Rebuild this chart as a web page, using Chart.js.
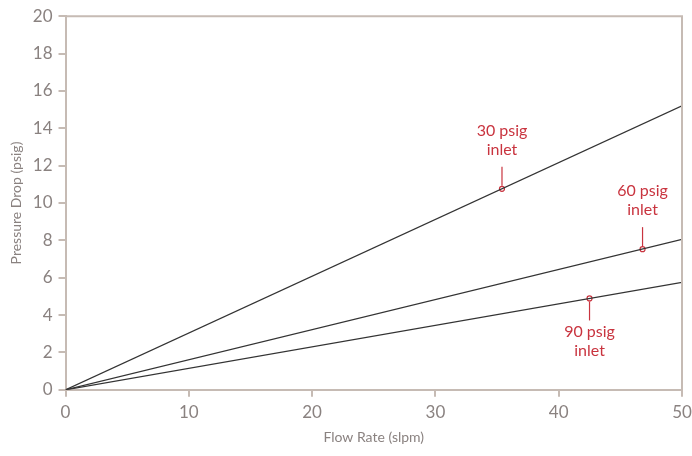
<!DOCTYPE html>
<html>
<head>
<meta charset="utf-8">
<script src="https://cdn.jsdelivr.net/npm/chart.js@4.4.1/dist/chart.umd.min.js"></script>
<style>
  html, body { margin: 0; padding: 0; background: #fff; }
  #wrap { width: 692px; height: 456px; }
</style>
</head>
<body>
<div id="wrap"><canvas id="myChart"></canvas></div>
<script>
// series: pressure drop at 0 and 50 slpm for each inlet pressure
const seriesNames = ['30 psig inlet', '60 psig inlet', '90 psig inlet'];
const flowRates = [0, 50];
const drop30 = [0, 15.2];
const drop60 = [0, 8.05];
const drop90 = [0, 5.75];

// callout points
const markerFlow = [35.4, 46.8, 42.5];
const markerDrop = [10.76, 7.53, 4.89];
const markerLines = [['30 psig', 'inlet'], ['60 psig', 'inlet'], ['90 psig', 'inlet']];
const markerAbove = [true, true, false];

const axisColor = '#c6bbb4';
const tickColor = '#8a8280';
const labelRed = '#c9343f';

const ctx = document.getElementById('myChart').getContext('2d');

const lineSet = (name, ys) => ({
    label: name,
    data: flowRates.map((x, i) => ({ x: x, y: ys[i] })),
    showLine: true,
    borderColor: '#333333',
    borderWidth: 1.3,
    pointRadius: 0,
    fill: false
});

// draws the box border, leader lines and callout text
const callouts = {
    id: 'callouts',
    afterDatasetsDraw(chart) {
        const c = chart.ctx;
        const a = chart.chartArea;
        const xs = chart.scales.x, ys = chart.scales.y;
        c.save();
        c.strokeStyle = axisColor;
        c.lineWidth = 2;
        c.beginPath();
        c.moveTo(a.left, a.top);
        c.lineTo(a.right, a.top);
        c.lineTo(a.right, a.bottom);
        c.stroke();

        c.font = '16px Lato';
        c.textAlign = 'center';
        c.textBaseline = 'middle';
        markerFlow.forEach((fx, i) => {
            const px = xs.getPixelForValue(fx);
            const py = ys.getPixelForValue(markerDrop[i]);
            const dir = markerAbove[i] ? -1 : 1;
            c.strokeStyle = labelRed;
            c.lineWidth = 1.2;
            c.beginPath();
            c.moveTo(px, py + dir * 3);
            c.lineTo(px, py + dir * 22);
            c.stroke();
            c.fillStyle = labelRed;
            if (markerAbove[i]) {
                c.fillText(markerLines[i][0], px, py - 58);
                c.fillText(markerLines[i][1], px, py - 39);
            } else {
                c.fillText(markerLines[i][0], px, py + 33);
                c.fillText(markerLines[i][1], px, py + 52);
            }
        });
        c.restore();
    }
};

const myChart = new Chart(ctx, {
    type: 'scatter',
    data: {
        datasets: [
            lineSet(seriesNames[0], drop30),
            lineSet(seriesNames[1], drop60),
            lineSet(seriesNames[2], drop90),
            {
                label: 'markers',
                data: markerFlow.map((x, i) => ({ x: x, y: markerDrop[i] })),
                showLine: false,
                pointRadius: 2.5,
                pointBorderWidth: 1.2,
                pointBorderColor: labelRed,
                pointBackgroundColor: '#ffffff'
            }
        ]
    },
    options: {
        responsive: true,
        maintainAspectRatio: false,
        animation: false,
        layout: { padding: { top: 8, right: 0, left: 4, bottom: 6 } },
        plugins: {
            legend: { display: false },
            tooltip: { enabled: false }
        },
        scales: {
            x: {
                type: 'linear',
                min: 0,
                max: 50,
                afterFit: (s) => { s.paddingRight = 10; },
                ticks: { stepSize: 10, color: tickColor, font: { family: 'Lato', size: 17 }, padding: 6 },
                grid: { drawOnChartArea: false, drawTicks: true, tickLength: 7, color: axisColor, lineWidth: 2 },
                border: { color: axisColor, width: 2 },
                title: { display: true, text: 'Flow Rate (slpm)', color: tickColor, font: { family: 'Lato', size: 14 }, padding: { top: 0 } }
            },
            y: {
                min: 0,
                max: 20,
                ticks: { stepSize: 2, color: tickColor, font: { family: 'Lato', size: 17 }, padding: 6 },
                grid: { drawOnChartArea: false, drawTicks: true, tickLength: 7, color: axisColor, lineWidth: 2 },
                border: { color: axisColor, width: 2 },
                title: { display: true, text: 'Pressure Drop (psig)', color: tickColor, font: { family: 'Lato', size: 14 }, padding: { bottom: 2 } }
            }
        }
    },
    plugins: [callouts]
});
</script>
</body>
</html>
